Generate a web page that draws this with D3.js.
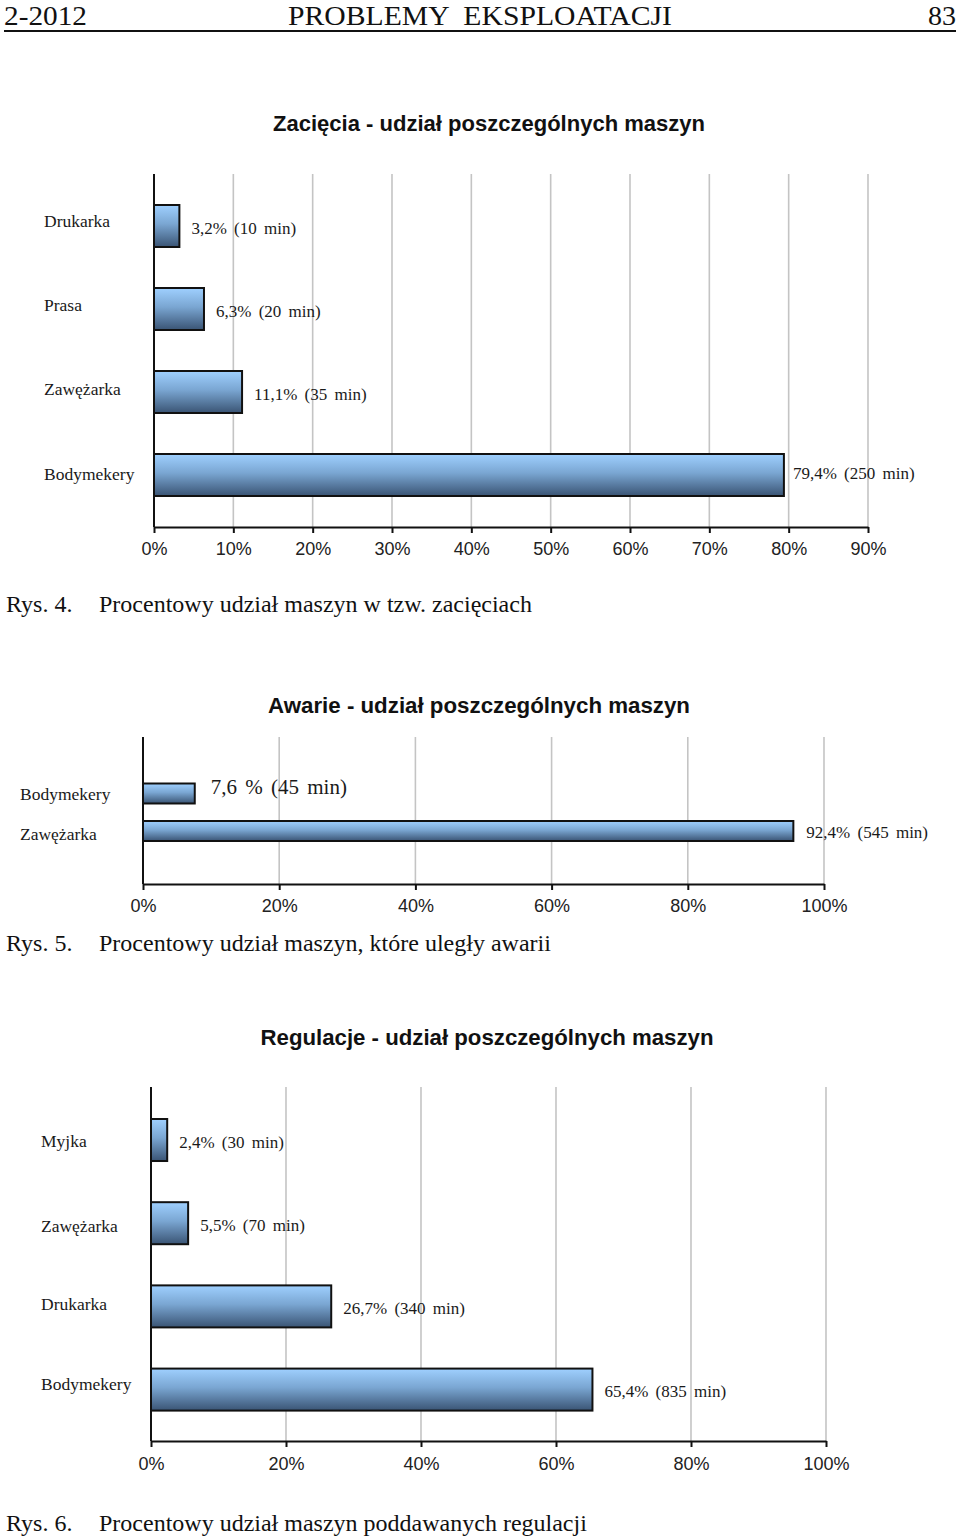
<!DOCTYPE html>
<html><head><meta charset="utf-8">
<script src="https://cdn.jsdelivr.net/npm/d3@7/dist/d3.min.js"></script>
<style>
html,body{margin:0;padding:0;background:#fff;}
svg{display:block;}
.serif{font-family:"Liberation Serif","Times New Roman",serif;}
.sans{font-family:"Liberation Sans",Arial,sans-serif;}
</style></head>
<body>
<svg id="page" width="960" height="1537"></svg>
<script>
// ---------- DATA ----------
const headerLeft = "2-2012";
const headerCenter = "PROBLEMY  EKSPLOATACJI";
const headerRight = "83";

const chart1Title = "Zacięcia - udział poszczególnych maszyn";
const chart1Categories = ["Drukarka", "Prasa", "Zawężarka", "Bodymekery"];
const chart1Values = [3.2, 6.3, 11.1, 79.4];
const chart1Labels = ["3,2% (10 min)", "6,3% (20 min)", "11,1% (35 min)", "79,4% (250 min)"];
const chart1Ticks = [0, 10, 20, 30, 40, 50, 60, 70, 80, 90];
const chart1CaptionNo = "Rys. 4.";
const chart1Caption = "Procentowy udział maszyn w tzw. zacięciach";

const chart2Title = "Awarie - udział poszczególnych maszyn";
const chart2Categories = ["Bodymekery", "Zawężarka"];
const chart2Values = [7.6, 95.5];
const chart2Labels = ["7,6 % (45 min)", "92,4% (545 min)"];
const chart2Ticks = [0, 20, 40, 60, 80, 100];
const chart2CaptionNo = "Rys. 5.";
const chart2Caption = "Procentowy udział maszyn, które uległy awarii";

const chart3Title = "Regulacje - udział poszczególnych maszyn";
const chart3Categories = ["Myjka", "Zawężarka", "Drukarka", "Bodymekery"];
const chart3Values = [2.4, 5.5, 26.7, 65.4];
const chart3Labels = ["2,4% (30 min)", "5,5% (70 min)", "26,7% (340 min)", "65,4% (835 min)"];
const chart3Ticks = [0, 20, 40, 60, 80, 100];
const chart3CaptionNo = "Rys. 6.";
const chart3Caption = "Procentowy udział maszyn poddawanych regulacji";

// ---------- DRAW ----------
const svg = d3.select("#page");
const defs = svg.append("defs");
const grad = defs.append("linearGradient").attr("id", "barGrad")
  .attr("x1", 0).attr("y1", 0).attr("x2", 0).attr("y2", 1);
grad.append("stop").attr("offset", "0%").attr("stop-color", "#9fd0ff");
grad.append("stop").attr("offset", "45%").attr("stop-color", "#7aa6d2");
grad.append("stop").attr("offset", "100%").attr("stop-color", "#3a5474");

// header
svg.append("text").attr("class", "serif").attr("x", 4).attr("y", 25)
  .attr("font-size", 28).attr("fill", "#111")
  .attr("textLength", 83).attr("lengthAdjust", "spacingAndGlyphs").text(headerLeft);
svg.append("text").attr("class", "serif").attr("x", 480).attr("y", 25)
  .attr("font-size", 28).attr("text-anchor", "middle").attr("fill", "#111")
  .attr("textLength", 384).attr("lengthAdjust", "spacingAndGlyphs")
  .style("white-space", "pre").text(headerCenter);
svg.append("text").attr("class", "serif").attr("x", 956).attr("y", 25)
  .attr("font-size", 28).attr("text-anchor", "end").attr("fill", "#111").text(headerRight);
svg.append("line").attr("x1", 4).attr("x2", 956).attr("y1", 31).attr("y2", 31)
  .attr("stroke", "#111").attr("stroke-width", 2);

function drawChart(cfg) {
  const g = svg.append("g");
  const x = d3.scaleLinear().domain([0, cfg.ticks[cfg.ticks.length - 1]]).range([cfg.x0, cfg.x1]);
  const y = d3.scaleBand().domain(cfg.categories).range([cfg.bandTop, cfg.bandBottom])
    .paddingInner(cfg.padding).paddingOuter(0);

  // title
  g.append("text").attr("class", "sans").attr("x", cfg.titleX).attr("y", cfg.titleY)
    .attr("text-anchor", "middle").attr("dominant-baseline", "middle")
    .attr("font-size", cfg.titleSize).attr("font-weight", "bold").attr("fill", "#111")
    .attr("textLength", cfg.titleLen).attr("lengthAdjust", "spacingAndGlyphs")
    .text(cfg.title);

  // gridlines
  g.selectAll(".grid").data(cfg.ticks.slice(1)).enter().append("line")
    .attr("x1", d => x(d)).attr("x2", d => x(d))
    .attr("y1", cfg.plotTop).attr("y2", cfg.axisY)
    .attr("stroke", "#c4c4c4").attr("stroke-width", 1.6);

  // bottom axis
  const axis = d3.axisBottom(x).tickValues(cfg.ticks).tickSize(6).tickSizeOuter(0)
    .tickFormat(d => d + "%");
  const ag = g.append("g").attr("transform", `translate(0,${cfg.axisY})`).call(axis);
  ag.select(".domain").attr("stroke", "#111").attr("stroke-width", 2);
  ag.selectAll(".tick line").attr("stroke", "#111").attr("stroke-width", 2);
  ag.selectAll(".tick text").attr("class", "sans").attr("font-size", cfg.tickSize)
    .attr("fill", "#222").attr("y", cfg.tickLabelDy).attr("dy", "0.35em");

  // left axis line
  g.append("line").attr("x1", cfg.x0).attr("x2", cfg.x0).attr("y1", cfg.plotTop).attr("y2", cfg.axisY)
    .attr("stroke", "#111").attr("stroke-width", 2);

  // bars
  g.selectAll(".bar").data(cfg.categories).enter().append("rect")
    .attr("x", cfg.x0).attr("y", d => y(d))
    .attr("width", (d, i) => x(cfg.values[i]) - cfg.x0)
    .attr("height", y.bandwidth())
    .attr("fill", "url(#barGrad)").attr("stroke", "#111").attr("stroke-width", 2);

  // value labels
  g.selectAll(".vl").data(cfg.categories).enter().append("text")
    .attr("class", "serif")
    .attr("x", (d, i) => x(cfg.values[i]) + cfg.labelGaps[i])
    .attr("y", (d, i) => y(d) + y.bandwidth() / 2 + cfg.labelDy[i])
    .attr("dominant-baseline", "middle")
    .attr("font-size", (d, i) => cfg.labelSizes[i]).attr("fill", "#1a1a1a")
    .attr("word-spacing", 3)
    .text((d, i) => cfg.labels[i]);

  // category labels
  g.selectAll(".cl").data(cfg.categories).enter().append("text")
    .attr("class", "serif").attr("x", cfg.catX)
    .attr("y", (d, i) => y(d) + y.bandwidth() / 2 + cfg.catDy[i])
    .attr("dominant-baseline", "middle")
    .attr("font-size", cfg.catSize).attr("fill", "#1a1a1a")
    .text(d => d);

  // caption
  g.append("text").attr("class", "serif").attr("x", 6).attr("y", cfg.captionY)
    .attr("dominant-baseline", "middle").attr("font-size", 24).attr("fill", "#111")
    .text(cfg.captionNo);
  g.append("text").attr("class", "serif").attr("x", 99).attr("y", cfg.captionY)
    .attr("dominant-baseline", "middle").attr("font-size", 24).attr("fill", "#111")
    .text(cfg.caption);
}

drawChart({
  title: chart1Title, titleX: 489, titleY: 125, titleSize: 22, titleLen: 432,
  categories: chart1Categories, values: chart1Values, labels: chart1Labels, ticks: chart1Ticks,
  x0: 154, x1: 868, plotTop: 174, axisY: 527, bandTop: 205, bandBottom: 496, padding: 0.494,
  tickSize: 18, tickLabelDy: 22, labelGaps: [12, 12, 12, 9], labelSizes: [17, 17, 17, 17],
  labelDy: [4, 4, 4, 0],
  catX: 44, catSize: 17.5, catDy: [-3, -2, -1, 1],
  captionNo: chart1CaptionNo, caption: chart1Caption, captionY: 606
});

drawChart({
  title: chart2Title, titleX: 479, titleY: 707, titleSize: 22, titleLen: 422,
  categories: chart2Categories, values: chart2Values, labels: chart2Labels, ticks: chart2Ticks,
  x0: 143, x1: 824, plotTop: 737, axisY: 884, bandTop: 783.5, bandBottom: 841, padding: 0.467,
  tickSize: 18, tickLabelDy: 22, labelGaps: [16, 13], labelSizes: [21, 17], labelDy: [-4, 3],
  catX: 20, catSize: 17.5, catDy: [2, 5],
  captionNo: chart2CaptionNo, caption: chart2Caption, captionY: 945
});

drawChart({
  title: chart3Title, titleX: 487, titleY: 1039, titleSize: 22, titleLen: 453,
  categories: chart3Categories, values: chart3Values, labels: chart3Labels, ticks: chart3Ticks,
  x0: 151, x1: 826, plotTop: 1087, axisY: 1441, bandTop: 1119, bandBottom: 1410.6, padding: 0.495,
  tickSize: 18, tickLabelDy: 23, labelGaps: [12, 12, 12, 12], labelSizes: [17, 17, 17, 17],
  labelDy: [4, 4, 4, 4],
  catX: 41, catSize: 17.5, catDy: [3, 5, 0, -4],
  captionNo: chart3CaptionNo, caption: chart3Caption, captionY: 1525
});
</script>
</body></html>
